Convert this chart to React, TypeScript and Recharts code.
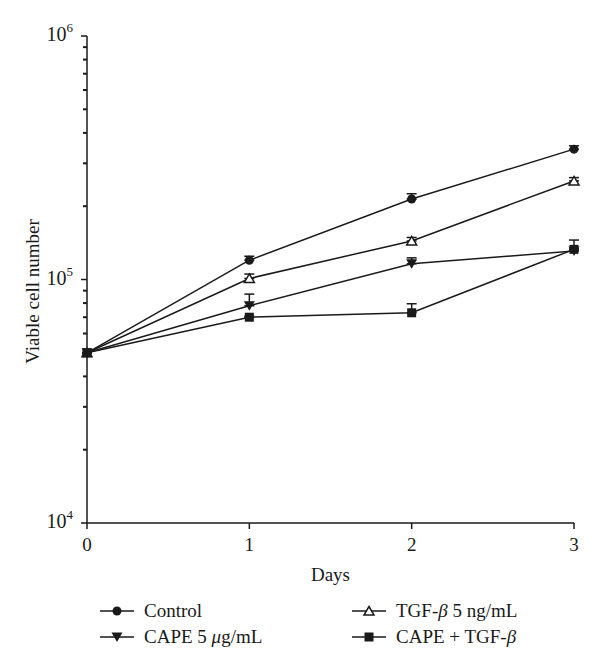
import { LineChart, Line, XAxis, YAxis, ErrorBar, Label } from "recharts";

const days = [0, 1, 2, 3];
const control = [50000, 120000, 214000, 343000];
const controlErr = [0, 4600, 11000, 10900];
const tgf = [50000, 101000, 144000, 254000];
const tgfErr = [0, 4300, 4800, 8100];
const cape = [50000, 78000, 116000, 131000];
const capeErr = [0, 9100, 6700, 2600];
const combo = [50000, 70000, 73000, 133000];
const comboErr = [0, 700, 6500, 12200];

const majorTicks = [1e4, 1e5, 1e6];
const minorTicks = [2, 3, 4, 5, 6, 7, 8, 9].flatMap((m) => [m * 1e4, m * 1e5]);
const yTicks = [...majorTicks, ...minorTicks].sort((a, b) => a - b);

const data = days.map((d, i) => ({
  day: d,
  control: control[i],
  controlErr: [0, controlErr[i]],
  tgf: tgf[i],
  tgfErr: [0, tgfErr[i]],
  cape: cape[i],
  capeErr: [0, capeErr[i]],
  combo: combo[i],
  comboErr: [0, comboErr[i]],
}));

const FONT = '"Liberation Serif", "Times New Roman", serif';
const INK = "#1a1a1a";

function Circle({ cx, cy }: any) {
  return <circle cx={cx} cy={cy} r={4.5} fill={INK} />;
}
function UpTri({ cx, cy }: any) {
  return (
    <path
      d={`M${cx},${cy - 4.5} L${cx + 5},${cy + 4} L${cx - 5},${cy + 4} Z`}
      fill="#fff"
      stroke={INK}
      strokeWidth={1.5}
    />
  );
}
function DownTri({ cx, cy }: any) {
  return (
    <path
      d={`M${cx - 5.5},${cy - 4.5} L${cx + 5.5},${cy - 4.5} L${cx},${cy + 5} Z`}
      fill={INK}
    />
  );
}
function Square({ cx, cy }: any) {
  return <rect x={cx - 4.5} y={cy - 4.5} width={9} height={9} fill={INK} />;
}

const dotFor = (Shape: any) => (p: any) => <Shape key={p.key ?? p.index} cx={p.cx} cy={p.cy} />;

// axis position is fixed by the chart margins: left margin + YAxis width
const AXIS_X = 8 + 71;

function YTick({ y, payload }: any) {
  const v = payload.value;
  const exp = Math.round(Math.log10(v));
  const major = Math.abs(v - Math.pow(10, exp)) < 1;
  const x = AXIS_X;
  if (!major) {
    return <rect x={x - 4} y={y - 1} width={4} height={2} fill={INK} />;
  }
  return (
    <g>
      <rect x={x - 6} y={y - 0.75} width={6} height={1.5} fill={INK} />
      <text x={x - 14} y={y + 5} textAnchor="end" fontFamily={FONT} fontSize={20} fill={INK}>
        <tspan>10</tspan>
        <tspan dy={-9} fontSize={13}>{exp}</tspan>
      </text>
    </g>
  );
}

function LegendItem({ left, top, Shape, text }: any) {
  return (
    <div style={{ position: "absolute", left, top, display: "flex", alignItems: "center", height: 20 }}>
      <svg width={34} height={20}>
        <line x1={0} x2={34} y1={10} y2={10} stroke={INK} strokeWidth={1.5} />
        <Shape cx={17} cy={10} />
      </svg>
      <span style={{ marginLeft: 10, fontFamily: FONT, fontSize: 19, color: INK, lineHeight: "20px", whiteSpace: "nowrap" }}>
        {text}
      </span>
    </div>
  );
}

export default function App() {
  return (
    <div style={{ position: "relative", width: 584, height: 656 }}>
      <LineChart width={584} height={580} data={data} margin={{ top: 28, right: 18, left: 8, bottom: 0 }}>
        <XAxis
          dataKey="day"
          type="number"
          domain={[0, 3]}
          ticks={days}
          tickSize={6}
          tickMargin={9}
          height={65}
          stroke={INK}
          strokeWidth={1.5}
          tick={{ fontFamily: FONT, fontSize: 19, fill: INK }}
        >
          <Label
            content={({ viewBox }: any) => (
              <text
                x={viewBox.x + viewBox.width / 2}
                y={viewBox.y + 58}
                textAnchor="middle"
                fontFamily={FONT}
                fontSize={19}
                fill={INK}
              >
                Days
              </text>
            )}
          />
        </XAxis>
        <YAxis
          type="number"
          scale="log"
          domain={[1e4, 1e6]}
          allowDataOverflow
          ticks={yTicks}
          interval={0}
          minTickGap={0}
          width={71}
          tickSize={0}
          tickMargin={0}
          tickLine={false}
          stroke={INK}
          strokeWidth={1.5}
          tick={<YTick />}
        >
          <Label
            content={({ viewBox }: any) => {
              const cx = viewBox.x + 16;
              const cy = viewBox.y + viewBox.height / 2 + 12;
              return (
                <text
                  x={cx}
                  y={cy}
                  transform={`rotate(-90 ${cx} ${cy})`}
                  textAnchor="middle"
                  dominantBaseline="central"
                  fontFamily={FONT}
                  fontSize={19}
                  fill={INK}
                >
                  Viable cell number
                </text>
              );
            }}
          />
        </YAxis>
        <Line dataKey="control" stroke={INK} strokeWidth={1.5} dot={dotFor(Circle)} isAnimationActive={false}>
          <ErrorBar dataKey="controlErr" direction="y" width={5} stroke={INK} strokeWidth={1.5} />
        </Line>
        <Line dataKey="tgf" stroke={INK} strokeWidth={1.5} dot={dotFor(UpTri)} isAnimationActive={false}>
          <ErrorBar dataKey="tgfErr" direction="y" width={5} stroke={INK} strokeWidth={1.5} />
        </Line>
        <Line dataKey="cape" stroke={INK} strokeWidth={1.5} dot={dotFor(DownTri)} isAnimationActive={false}>
          <ErrorBar dataKey="capeErr" direction="y" width={5} stroke={INK} strokeWidth={1.5} />
        </Line>
        <Line dataKey="combo" stroke={INK} strokeWidth={1.5} dot={dotFor(Square)} isAnimationActive={false}>
          <ErrorBar dataKey="comboErr" direction="y" width={5} stroke={INK} strokeWidth={1.5} />
        </Line>
      </LineChart>
      <LegendItem left={92} top={593} Shape={Circle} text="Control" />
      <LegendItem left={92} top={619} Shape={DownTri} text={<>CAPE 5 <i>μ</i>g/mL</>} />
      <LegendItem left={344} top={593} Shape={UpTri} text={<>TGF-<i>β</i> 5 ng/mL</>} />
      <LegendItem left={344} top={619} Shape={Square} text={<>CAPE + TGF-<i>β</i></>} />
    </div>
  );
}
